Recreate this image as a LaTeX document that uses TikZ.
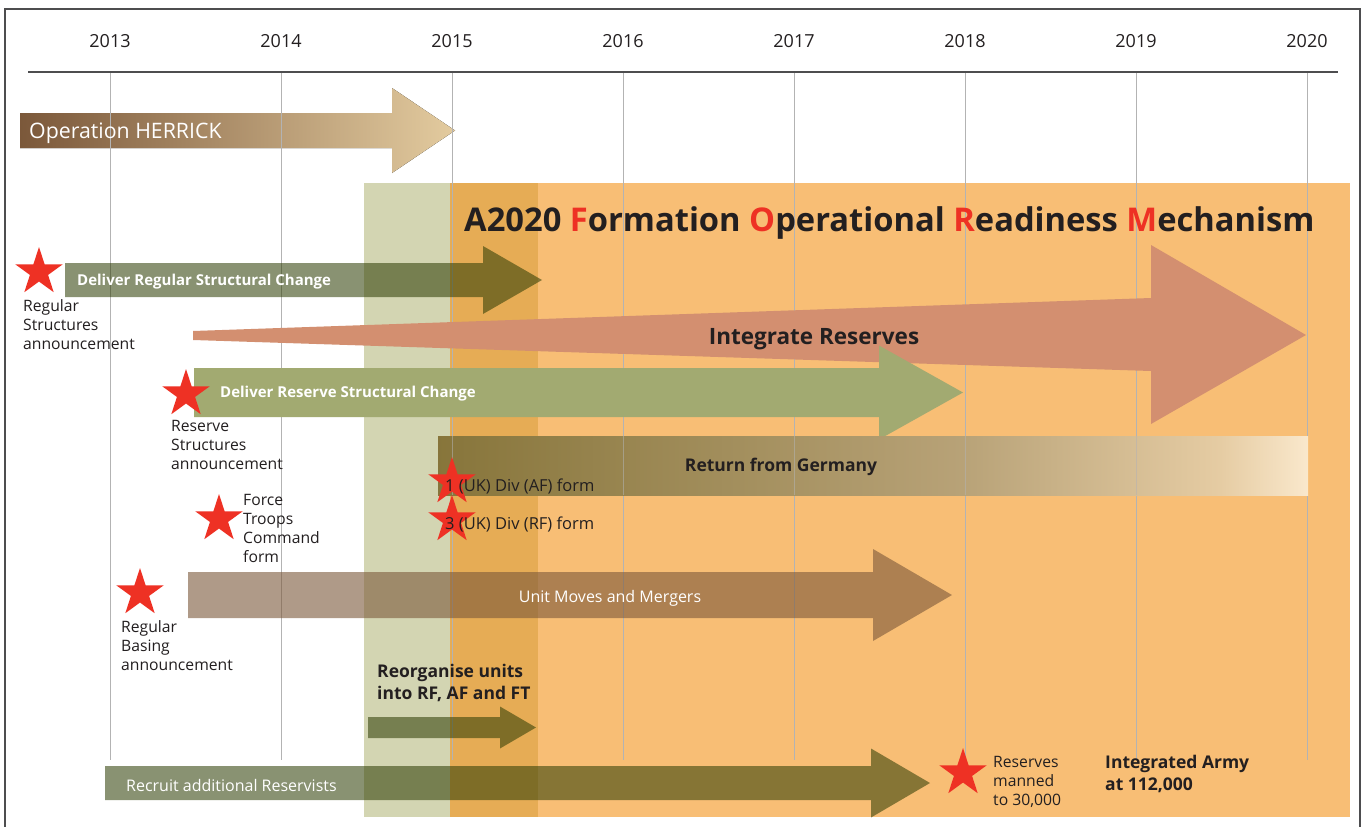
\documentclass[tikz,border=0pt]{standalone}
\usepackage{fontspec}
\setmainfont{Open Sans}
\usetikzlibrary{shapes.geometric}
\definecolor{framecol}{HTML}{4D4D4F}
\definecolor{gridcol}{HTML}{B3B3B3}
\definecolor{textdark}{HTML}{231F20}
\definecolor{starred}{HTML}{EE3124}
\definecolor{bandgreen}{HTML}{D3D5B2}
\definecolor{banddark}{HTML}{E6AC55}
\definecolor{bandorange}{HTML}{F8BE75}
\definecolor{herrickL}{HTML}{7B583A}
\definecolor{herrickR}{HTML}{E3CB9F}
\definecolor{armyolive}{RGB}{46,61,4}
\definecolor{reservegreen}{HTML}{A2AA71}
\definecolor{integpink}{HTML}{D38F70}
\definecolor{unitbrown}{RGB}{123,88,58}
\pgfdeclarehorizontalshading{germanyshade}{100bp}{rgb(0bp)=(0.53,0.46,0.23); rgb(25bp)=(0.53,0.46,0.23); rgb(55bp)=(0.72,0.635,0.467); rgb(70bp)=(0.90,0.80,0.64); rgb(75bp)=(0.98,0.91,0.80); rgb(100bp)=(0.98,0.91,0.80)}
% #1 options, #2 start x, #3 head base x, #4 tip x, #5 centre y, #6 half body, #7 half head
\newcommand{\fatarrow}[7][]{\fill[#1] (#2,#5-#6) -- (#3,#5-#6) -- (#3,#5-#7) -- (#4,#5) -- (#3,#5+#7) -- (#3,#5+#6) -- (#2,#5+#6) -- cycle;}
\begin{document}
\begin{tikzpicture}[x=1pt,y=-1pt,
  redstar/.style={star, star points=5, star point ratio=2.618, fill=starred, draw=none, minimum size=50pt, inner sep=0pt},
  lbl/.style={anchor=west, align=left, inner sep=0pt, text=textdark, font=\fontsize{15.7}{19}\selectfont},
  divlbl/.style={anchor=west, inner sep=0pt, text=textdark, font=\fontsize{16.5}{19}\selectfont},
  yearlbl/.style={inner sep=0pt, text=textdark, font=\fontsize{18}{20}\selectfont},
  whitebold/.style={anchor=west, inner sep=0pt, text=white, font=\bfseries\fontsize{15}{18}\selectfont},
  whitereg/.style={inner sep=0pt, text=white, font=\fontsize{16}{18}\selectfont},
  darkbold/.style={inner sep=0pt, text=textdark, align=left, font=\bfseries\fontsize{17.5}{22}\selectfont},
  gridline/.style={draw=gridcol, line width=1pt},
  oliveshape/.style={fill=armyolive, fill opacity=0.56}]
\useasboundingbox (0,0) rectangle (1365,827);
\fill[white] (0,0) rectangle (1365,827);
% Operation HERRICK
\fatarrow[left color=herrickL, right color=herrickR]{20}{392}{455}{130.5}{17.5}{42.5}
% background bands
\fill[bandgreen] (364,183) rectangle (450,817);
\fill[banddark] (450,183) rectangle (538,817);
\fill[bandorange] (538,183) rectangle (1350,817);
% grid, axis, frame
\foreach \yr [count=\i from 0] in {2013,...,2020} {
  \node[yearlbl] (y\yr) at (110+171*\i,41) {\yr};
  \draw[gridline] (110+171*\i,72) -- (110+171*\i,760);
}
\draw[framecol, line width=1.5pt] (28,72) -- (1338,72);
\draw[framecol, line width=1.5pt] (5,830) -- (5,9) -- (1360,9) -- (1360,830);
% Integrate Reserves
\fill[integpink] (193,331) -- (1151,298) -- (1151,245) -- (1306,335) -- (1151,424) -- (1151,371) -- (193,340) -- cycle;
% Deliver Regular Structural Change
\fatarrow[oliveshape]{65}{483}{542}{280}{17}{34}
% Deliver Reserve Structural Change
\fatarrow[fill=reservegreen]{194}{879}{963}{392.5}{24.5}{47}
% Return from Germany
\fill[shading=germanyshade] (438,436) rectangle (1308,495);
\foreach \i in {2,...,6} {
  \draw[gridline, draw opacity=0.55] (110+171*\i,436) -- (110+171*\i,495);
}
% Unit Moves and Mergers
\fatarrow[fill=unitbrown, fill opacity=0.6]{188}{873}{952}{595}{23}{46}
% Reorganise
\fatarrow[oliveshape]{368}{500}{536}{727.5}{10.5}{21}
% Recruit
\fatarrow[oliveshape]{105}{871}{930}{783}{17}{34.5}
% texts
\node[anchor=west, inner sep=0pt, text=white, font=\fontsize{21.3}{24}\selectfont] (herrick) at (29,133) {Operation HERRICK};
\node[anchor=west, inner sep=0pt, text=textdark, font=\bfseries\fontsize{32.7}{36}\selectfont] (title) at (464,223)
  {A2020 \textcolor{starred}{F}ormation \textcolor{starred}{O}perational \textcolor{starred}{R}eadiness \textcolor{starred}{M}echanism};
\node[whitebold] (regtxt) at (77,282) {Deliver Regular Structural Change};
\node[inner sep=0pt, text=textdark, font=\bfseries\fontsize{22.5}{26}\selectfont] (integ) at (814,339) {Integrate Reserves};
\node[whitebold] (restxt) at (220,394) {Deliver Reserve Structural Change};
\node[darkbold] (germany) at (781,467) {Return from Germany};
\node[whitereg] (units) at (610,598) {Unit Moves and Mergers};
\node[whitereg, anchor=west] (recruit) at (126,785) {Recruit additional Reservists};
\node[darkbold, anchor=west] (reorg) at (377,683) {Reorganise units\\into RF, AF and FT};
\node[darkbold, anchor=west] (army) at (1105,774) {Integrated Army\\at 112,000};
% stars and labels
\node[redstar] (s1) at (39,272) {};
\node[lbl] (l1) at (23,325) {Regular\\Structures\\announcement};
\node[redstar] (s2) at (186,394) {};
\node[lbl] (l2) at (171,445) {Reserve\\Structures\\announcement};
\node[redstar] (s3) at (219,519) {};
\node[lbl] (l3) at (243,528) {Force\\Troops\\Command\\form};
\node[redstar] (s4) at (452,482) {};
\node[divlbl] (l4) at (445,486) {1 (UK) Div (AF) form};
\node[redstar] (s5) at (452,520) {};
\node[divlbl] (l5) at (445,524) {3 (UK) Div (RF) form};
\node[redstar] (s6) at (140,593) {};
\node[lbl] (l6) at (121,646) {Regular\\Basing\\announcement};
\node[redstar] (s7) at (963,773) {};
\node[lbl] (l7) at (993,782) {Reserves\\manned\\to 30,000};
\end{tikzpicture}
\end{document}
